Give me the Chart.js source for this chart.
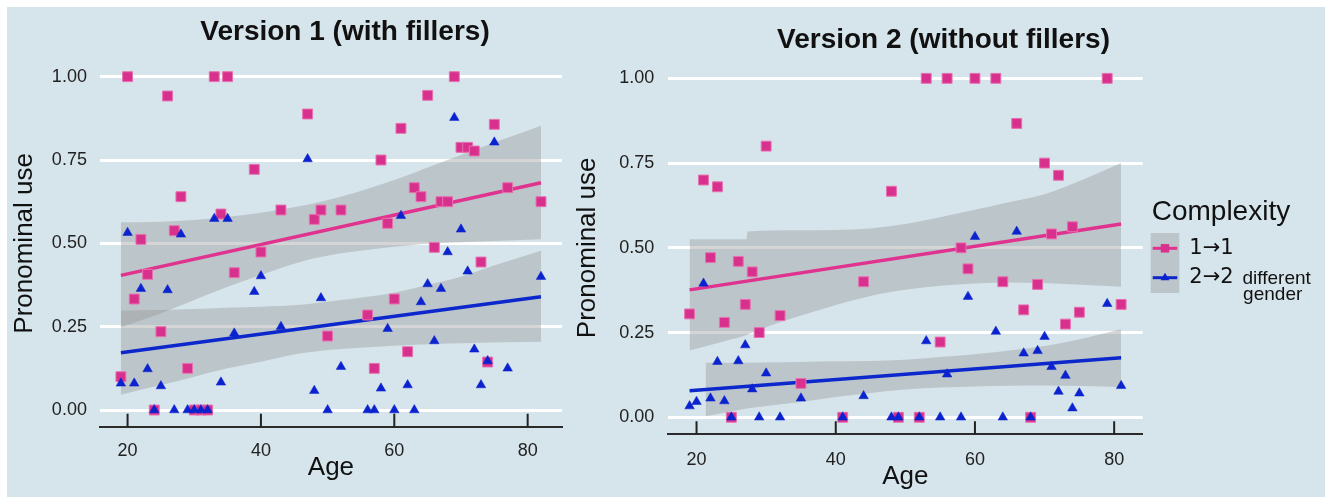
<!DOCTYPE html>
<html>
<head>
<meta charset="utf-8">
<script src="https://cdn.jsdelivr.net/npm/chart.js@4.4.1/dist/chart.umd.min.js"></script>
<style>
  body { margin: 0; background: #fff; }
  #fundo { position: absolute; left: 7px; top: 7px; width: 1318px; height: 490px; background: #d6e4eb; }
  #grafico1 { position: absolute; left: 0; top: 0; }
  #grafico2 { position: absolute; left: 570px; top: 0; }
</style>
</head>
<body>
<div id="fundo"></div>
<canvas id="grafico1" width="570" height="497"></canvas>
<canvas id="grafico2" width="758" height="497"></canvas>
<script>
const xTicks = [20, 40, 60, 80];
const yTicks = [0, 0.25, 0.5, 0.75, 1];
const legendTitle = "Complexity";
const seriesNames = ["1→1", "2→2"];
const seriesNote = ["different", "gender"];

// Version 1 (with fillers)
const ages1 = [19, 20, 21, 22, 23, 24, 25, 26, 27, 28, 29, 30, 31, 32, 33, 34, 35, 36, 39, 40, 43, 47, 48, 49,
  50, 52, 56, 57, 58, 59, 60, 61, 62, 63, 64, 65, 66, 67, 68, 69, 70, 71, 72, 73, 74, 75, 77, 82];
const same1 = [0.10, 1.00, 0.333, 0.512, 0.407, 0.00, 0.235, 0.942, 0.538, 0.64, 0.125, 0.00, 0.00, 0.00, 1.00, 0.588,
  1.00, 0.412, 0.722, 0.474, 0.60, 0.888, 0.572, 0.60, 0.222, 0.60, 0.285, 0.125, 0.75, 0.56, 0.333, 0.845, 0.175,
  0.667, 0.64, 0.944, 0.488, 0.625, 0.625, 1.00, 0.788, 0.788, 0.777, 0.444, 0.144, 0.857, 0.667, 0.625];
const diff1 = [0.08, 0.532, 0.08, 0.364, 0.123, 0.00, 0.072, 0.36, 0.00, 0.527, 0.00, 0.00, 0.00, 0.00, 0.574, 0.083,
  0.574, 0.23, 0.355, 0.402, 0.25, 0.753, 0.058, 0.336, 0.00, 0.13, 0.00, 0.00, 0.065, 0.244, 0.00, 0.583, 0.075,
  0.00, 0.324, 0.378, 0.207, 0.364, 0.474, 0.877, 0.542, 0.416, 0.182, 0.075, 0.147, 0.803, 0.125, 0.40];
const fitAges1 = [19, 82];
const fitSame1 = [0.404, 0.682];
const fitDiff1 = [0.172, 0.340];
const bandAges1 = [19, 25, 30, 35, 40, 46, 52, 60, 66, 70, 76, 82];
const bandSameHi1 = [0.563, 0.565, 0.57, 0.58, 0.592, 0.612, 0.64, 0.69, 0.735, 0.765, 0.81, 0.853];
const bandSameLo1 = [0.248, 0.29, 0.33, 0.37, 0.405, 0.445, 0.47, 0.49, 0.50, 0.503, 0.508, 0.512];
const bandDiffHi1 = [0.298, 0.30, 0.303, 0.307, 0.31, 0.316, 0.33, 0.352, 0.38, 0.40, 0.44, 0.478];
const bandDiffLo1 = [0.046, 0.075, 0.10, 0.125, 0.145, 0.17, 0.183, 0.193, 0.198, 0.20, 0.203, 0.205];

// Version 2 (without fillers)
const ages2 = [19, 20, 21, 22, 23, 24, 25, 26, 27, 28, 29, 30, 32, 35, 41, 44, 48, 49, 52, 53, 55, 56, 58, 59,
  60, 63, 64, 66, 67, 68, 69, 70, 71, 72, 73, 74, 75, 79, 81];
const same2 = [0.305, null, 0.70, 0.471, 0.68, 0.28, 0.00, 0.46, 0.333, 0.429, 0.25, 0.80, 0.30, 0.10, 0.00, 0.40,
  0.667, 0.00, 0.00, 1.00, 0.222, 1.00, 0.50, 0.438, 1.00, 1.00, 0.40, 0.867, 0.317, 0.00, 0.392, 0.75, 0.541,
  0.714, 0.275, 0.562, 0.31, 1.00, 0.333];
const diff2 = [0.033, 0.046, 0.395, 0.056, 0.164, 0.048, 0.00, 0.166, 0.213, 0.083, 0.00, 0.13, 0.00, 0.056, 0.00,
  0.063, 0.00, 0.00, 0.00, 0.225, 0.00, 0.127, 0.00, 0.356, 0.533, 0.253, 0.00, 0.548, 0.189, 0.00, 0.196, 0.238,
  0.149, 0.076, 0.123, 0.027, 0.071, 0.335, 0.093];
const fitAges2 = [19, 81];
const fitSame2 = [0.376, 0.570];
const fitDiff2 = [0.078, 0.176];
const bandSameAges2 = [19, 25, 27.2, 27.3, 35, 45, 50, 55, 60, 65, 70, 76, 81];
const bandSameHi2 = [0.525, 0.525, 0.525, 0.548, 0.552, 0.557, 0.57, 0.59, 0.612, 0.635, 0.658, 0.705, 0.75];
const bandSameLo2 = [0.197, 0.23, 0.243, 0.244, 0.30, 0.358, 0.376, 0.388, 0.395, 0.398, 0.396, 0.39, 0.385];
const bandDiffAges2 = [21.3, 25, 30, 35, 40, 45, 50, 55, 60, 65, 70, 76, 81];
const bandDiffHi2 = [0.161, 0.161, 0.162, 0.163, 0.165, 0.166, 0.17, 0.178, 0.186, 0.197, 0.21, 0.235, 0.26];
const bandDiffLo2 = [0.003, 0.018, 0.033, 0.045, 0.06, 0.072, 0.082, 0.088, 0.091, 0.093, 0.094, 0.092, 0.089];

const fonte = "'Liberation Sans', Arial, Helvetica, sans-serif";
const corRosa = "#d8318d";
const corBordaRosa = "#e870b0";
const corAzul = "#0b22cf";
const corLinhaRosa = "#e0328f";
const corLinhaAzul = "#0c27cc";
const corFaixa = "rgba(150, 150, 150, 0.4)";

Chart.defaults.font.family = fonte;
Chart.defaults.color = "#222";
Chart.defaults.animation = false;

function pontos(xs, ys) {
  return xs.map(function (x, i) {
    return { x: x, y: ys[i] };
  });
}

function marcasEixoX() {
  return {
    id: "marcasEixoX",
    afterDraw(chart) {
      const ctx = chart.ctx;
      const escala = chart.scales.x;
      const base = chart.chartArea.bottom;
      ctx.save();
      ctx.strokeStyle = "#222";
      ctx.lineWidth = 2;
      escala.ticks.forEach(function (t) {
        const px = escala.getPixelForValue(t.value);
        ctx.beginPath();
        ctx.moveTo(px, base);
        ctx.lineTo(px, base - 13);
        ctx.stroke();
      });
      ctx.restore();
    }
  };
}

function tituloPainel(texto, x, y) {
  return {
    id: "tituloPainel",
    afterDraw(chart) {
      const ctx = chart.ctx;
      ctx.save();
      ctx.font = "bold 28px " + fonte;
      ctx.fillStyle = "#111";
      ctx.textAlign = "center";
      ctx.textBaseline = "alphabetic";
      ctx.fillText(texto, x, y);
      ctx.restore();
    }
  };
}

const legenda = {
  id: "legenda",
  afterDraw(chart) {
    const ctx = chart.ctx;
    const x0 = chart.chartArea.right + 8;
    ctx.save();
    ctx.fillStyle = "#111";
    ctx.textAlign = "left";
    ctx.textBaseline = "alphabetic";
    ctx.font = "28px " + fonte;
    ctx.fillText(legendTitle, x0 + 1, 220);

    ctx.fillStyle = corFaixa;
    ctx.fillRect(x0, 233, 28.6, 60);

    const chaves = [
      { y: 248.3, linha: corLinhaRosa, cor: corRosa, estilo: "rect", raio: 6 },
      { y: 277.7, linha: corLinhaAzul, cor: corAzul, estilo: "triangle", raio: 5 }
    ];
    chaves.forEach(function (k, i) {
      ctx.strokeStyle = k.linha;
      ctx.lineWidth = 3;
      ctx.beginPath();
      ctx.moveTo(x0 + 2, k.y);
      ctx.lineTo(x0 + 26.6, k.y);
      ctx.stroke();
      ctx.fillStyle = k.cor;
      Chart.helpers.drawPoint(ctx, { pointStyle: k.estilo, radius: k.raio, rotation: 0, borderWidth: 0 }, x0 + 14.3, k.y);

      ctx.fillStyle = "#111";
      ctx.font = "21px 'DejaVu Sans', " + fonte;
      ctx.textBaseline = "middle";
      ctx.fillText(seriesNames[i], x0 + 38.6, k.y);
    });

    ctx.font = "19px " + fonte;
    ctx.textAlign = "center";
    ctx.textBaseline = "alphabetic";
    ctx.fillText(seriesNote[0], x0 + 126, 284);
    ctx.fillText(seriesNote[1], x0 + 122, 300);
    ctx.restore();
  }
};

function montarGrafico(idCanvas, p) {
  const ctx = document.getElementById(idCanvas);

  const linhaBase = {
    showLine: true,
    pointRadius: 0,
    pointHoverRadius: 0,
    fill: false
  };

  return new Chart(ctx, {
    type: "line",
    data: {
      datasets: [
        {
          label: seriesNames[1],
          data: pontos(p.ages, p.diff),
          showLine: false,
          pointStyle: "triangle",
          pointRadius: 5.5,
          pointBackgroundColor: corAzul,
          pointBorderColor: corAzul,
          pointBorderWidth: 0.5,
          order: 0
        },
        {
          label: seriesNames[0],
          data: pontos(p.ages, p.same),
          showLine: false,
          pointStyle: "rect",
          pointRadius: 7,
          pointBackgroundColor: corRosa,
          pointBorderColor: corBordaRosa,
          pointBorderWidth: 1,
          order: 1
        },
        Object.assign({}, linhaBase, {
          data: pontos(p.fitAges, p.fitSame),
          borderColor: corLinhaRosa,
          borderWidth: 3.5,
          order: 2
        }),
        Object.assign({}, linhaBase, {
          data: pontos(p.fitAges, p.fitDiff),
          borderColor: corLinhaAzul,
          borderWidth: 3.5,
          order: 2
        }),
        Object.assign({}, linhaBase, {
          data: pontos(p.sameBandAges, p.sameHi),
          borderWidth: 0,
          cubicInterpolationMode: "monotone",
          order: 3
        }),
        Object.assign({}, linhaBase, {
          data: pontos(p.sameBandAges, p.sameLo),
          borderWidth: 0,
          cubicInterpolationMode: "monotone",
          fill: "-1",
          backgroundColor: corFaixa,
          order: 3
        }),
        Object.assign({}, linhaBase, {
          data: pontos(p.diffBandAges, p.diffHi),
          borderWidth: 0,
          cubicInterpolationMode: "monotone",
          order: 3
        }),
        Object.assign({}, linhaBase, {
          data: pontos(p.diffBandAges, p.diffLo),
          borderWidth: 0,
          cubicInterpolationMode: "monotone",
          fill: "-1",
          backgroundColor: corFaixa,
          order: 3
        })
      ]
    },
    options: {
      responsive: false,
      animation: false,
      layout: { padding: p.padding },
      plugins: {
        legend: { display: false },
        tooltip: { enabled: false },
        title: { display: false }
      },
      scales: {
        x: {
          type: "linear",
          min: p.xMin,
          max: p.xMax,
          afterBuildTicks: function (s) { s.ticks = xTicks.map(function (v) { return { value: v }; }); },
          afterFit: function (s) { s.height = p.xHeight; },
          grid: { display: false, drawTicks: false },
          border: { display: true, color: "#2b2b2b", width: 2 },
          ticks: { color: "#222", font: { size: 18 }, padding: p.xTickPad, maxRotation: 0 },
          title: {
            display: true,
            text: "Age",
            color: "#111",
            font: { size: 26 },
            padding: { top: 0, bottom: p.xTitlePad }
          }
        },
        y: {
          type: "linear",
          min: -0.05,
          max: 1.05,
          afterBuildTicks: function (s) { s.ticks = yTicks.map(function (v) { return { value: v }; }); },
          afterFit: function (s) { s.width = p.yWidth; },
          grid: { color: "#ffffff", lineWidth: 3, drawTicks: false },
          border: { display: false },
          ticks: {
            color: "#222",
            font: { size: 18 },
            padding: p.yTickPad,
            callback: function (v) { return Number(v).toFixed(2); }
          },
          title: {
            display: true,
            text: "Pronominal use",
            color: "#111",
            font: { size: 26 },
            padding: { top: p.yTitlePad, bottom: 0 }
          }
        }
      }
    },
    plugins: p.plugins
  });
}

montarGrafico("grafico1", {
  ages: ages1, same: same1, diff: diff1,
  fitAges: fitAges1, fitSame: fitSame1, fitDiff: fitDiff1,
  sameBandAges: bandAges1, sameHi: bandSameHi1, sameLo: bandSameLo1,
  diffBandAges: bandAges1, diffHi: bandDiffHi1, diffLo: bandDiffLo1,
  xMin: 15.85, xMax: 85.15,
  padding: { left: 0, right: 4, top: 60, bottom: 0 },
  xHeight: 70.3, yWidth: 99.9,
  xTickPad: 13.2, xTitlePad: 13.8, yTickPad: 13, yTitlePad: 9.4,
  plugins: [marcasEixoX(), tituloPainel("Version 1 (with fillers)", 345, 40)]
});

montarGrafico("grafico2", {
  ages: ages2, same: same2, diff: diff2,
  fitAges: fitAges2, fitSame: fitSame2, fitDiff: fitDiff2,
  sameBandAges: bandSameAges2, sameHi: bandSameHi2, sameLo: bandSameLo2,
  diffBandAges: bandDiffAges2, diffHi: bandDiffHi2, diffLo: bandDiffLo2,
  xMin: 15.9, xMax: 84.1,
  padding: { left: 0, right: 185.3, top: 61.4, bottom: 0 },
  xHeight: 62.75, yWidth: 98,
  xTickPad: 15, xTitlePad: 4.8, yTickPad: 13.7, yTitlePad: 2.4,
  plugins: [marcasEixoX(), tituloPainel("Version 2 (without fillers)", 373.5, 47.5), legenda]
});
</script>
</body>
</html>
